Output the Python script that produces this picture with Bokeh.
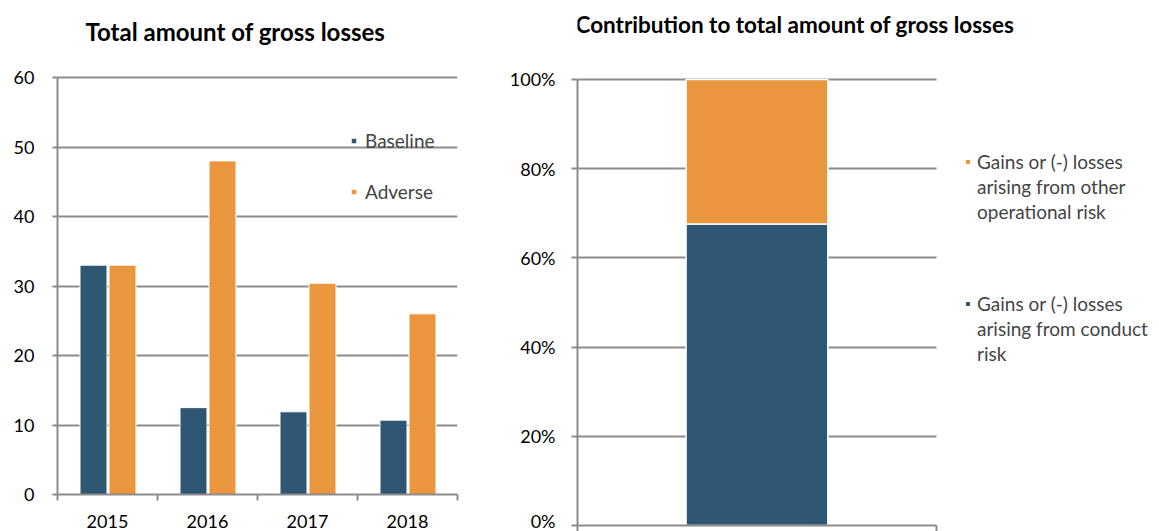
from bokeh.plotting import figure
from bokeh.layouts import row, column
from bokeh.models import (ColumnDataSource, FixedTicker, Legend, LegendItem,
                          NumeralTickFormatter, Range1d, Label)
from bokeh.embed import file_html
from bokeh.resources import INLINE

# ---------------- data ----------------
years = ["2015", "2016", "2017", "2018"]
baseline = [33.0, 12.5, 11.9, 10.7]
adverse = [33.0, 48.0, 30.4, 26.0]

contrib_category = ["Total"]
conduct_share = [0.676]
other_share = [0.324]

left_title = "Total amount of gross losses"
right_title = "Contribution to total amount of gross losses"
legend_left = ["Baseline", "Adverse"]
legend_other = ["Gains or (-) losses", "arising from other", "operational risk"]
legend_conduct = ["Gains or (-) losses", "arising from conduct", "risk"]

BLUE = "#2F5672"
ORANGE = "#EA963E"
GRID = "#8C8C8C"
FONT = "Lato"
H = 531


def style_axis(ax):
    ax.axis_line_color = GRID
    ax.axis_line_width = 2
    ax.major_tick_line_color = GRID
    ax.major_tick_line_width = 2
    ax.minor_tick_line_color = GRID
    ax.minor_tick_line_width = 2
    ax.major_label_text_font = FONT
    ax.major_label_text_font_size = "18px"
    ax.major_label_text_color = "black"


def add_title(p, text, x, y, size):
    p.add_layout(Label(x=x, y=y, text=text, text_font=FONT,
                       text_font_size=size, text_font_style="bold",
                       text_color="black", text_align="left",
                       text_baseline="middle"))


# ---------------- left chart ----------------
idx = list(range(len(years)))
src = ColumnDataSource(dict(
    xb=[i - 0.14 for i in idx], xa=[i + 0.15 for i in idx],
    baseline=baseline, adverse=adverse))

p1 = figure(width=500, height=H, output_backend="svg", toolbar_location=None,
            x_range=Range1d(-0.5, len(years) - 0.5), y_range=Range1d(0, 71.08),
            min_border_left=57, min_border_right=43, min_border_top=0,
            min_border_bottom=37)
p1.outline_line_color = None
r_b = p1.vbar(x="xb", top="baseline", width=0.27, source=src,
              fill_color=BLUE, line_color="white", line_width=1)
r_a = p1.vbar(x="xa", top="adverse", width=0.27, source=src,
              fill_color=ORANGE, line_color="white", line_width=1)
add_title(p1, left_title, -0.22, 66.62, "24px")

p1.xgrid.grid_line_color = None
p1.ygrid.grid_line_color = GRID
p1.ygrid.grid_line_width = 2
p1.yaxis.ticker = FixedTicker(ticks=[0, 10, 20, 30, 40, 50, 60])
p1.yaxis.bounds = (0, 60)
p1.xaxis.ticker = FixedTicker(ticks=idx,
                              minor_ticks=[i - 0.5 for i in idx] + [len(years) - 0.5])
p1.xaxis.major_label_overrides = {i: y for i, y in zip(idx, years)}
style_axis(p1.xaxis)
style_axis(p1.yaxis)
p1.yaxis.major_tick_out = 5
p1.yaxis.major_tick_in = 0
p1.yaxis.minor_tick_line_color = None
p1.yaxis.major_label_standoff = 18
p1.xaxis.major_tick_out = 0
p1.xaxis.major_tick_in = 0
p1.xaxis.minor_tick_out = 6
p1.xaxis.minor_tick_in = 0
p1.xaxis.major_label_standoff = 14

leg1 = Legend(items=[LegendItem(label=legend_left[0], renderers=[r_b]),
                     LegendItem(label=legend_left[1], renderers=[r_a])],
              location=(293, 291))
leg1.background_fill_alpha = 0
leg1.border_line_color = None
leg1.padding = 0
leg1.margin = 0
leg1.spacing = 28
leg1.glyph_width = 7
leg1.glyph_height = 7
leg1.label_height = 20
leg1.label_standoff = 8
leg1.label_text_font = FONT
leg1.label_text_font_size = "19px"
leg1.label_text_baseline = "middle"
p1.add_layout(leg1)

# ---------------- right chart ----------------
ci = list(range(len(contrib_category)))
src2 = ColumnDataSource(dict(x=ci, conduct=conduct_share,
                             other=[c + o for c, o in zip(conduct_share, other_share)]))

p2 = figure(width=659, height=H, output_backend="svg", toolbar_location=None,
            x_range=Range1d(-0.5, 1.1215), y_range=Range1d(0, 1.1771),
            min_border_left=77, min_border_right=0, min_border_top=0,
            min_border_bottom=6)
p2.outline_line_color = None
r_c = p2.vbar(x="x", bottom=0, top="conduct", width=0.395, source=src2,
              fill_color=BLUE, line_color="white", line_width=1.5)
r_o = p2.vbar(x="x", bottom="conduct", top="other", width=0.395, source=src2,
              fill_color=ORANGE, line_color="white", line_width=1.5)
k_n = p2.vbar(x="x", top="top", width=0.1, source=ColumnDataSource(dict(x=[], top=[])),
              fill_alpha=0, line_alpha=0)
add_title(p2, right_title, -0.5056, 1.1233, "22.5px")

p2.xgrid.grid_line_color = None
p2.ygrid.grid_line_color = GRID
p2.ygrid.grid_line_width = 2
p2.ygrid.cross_bounds = (-0.5, len(ci) - 0.5)
p2.yaxis.ticker = FixedTicker(ticks=[0, 0.2, 0.4, 0.6, 0.8, 1.0])
p2.yaxis.formatter = NumeralTickFormatter(format="0%")
p2.yaxis.bounds = (0, 1)
p2.xaxis.ticker = FixedTicker(ticks=[-0.5, len(ci) - 0.5])
p2.xaxis.bounds = (-0.5, len(ci) - 0.5)
p2.xaxis.major_label_overrides = {-0.5: "", len(ci) - 0.5: ""}
style_axis(p2.xaxis)
style_axis(p2.yaxis)
p2.yaxis.minor_tick_line_color = None
p2.xaxis.minor_tick_line_color = None
p2.yaxis.major_tick_out = 6
p2.yaxis.major_tick_in = 0
p2.yaxis.major_label_standoff = 16
p2.xaxis.major_tick_out = 6
p2.xaxis.major_tick_in = 0
p2.xaxis.major_label_standoff = 0
p2.xaxis.major_label_text_font_size = "0px"


def make_legend(lines, rend, loc):
    items = [LegendItem(label=lines[0], renderers=[rend])]
    items += [LegendItem(label=t, renderers=[k_n]) for t in lines[1:]]
    lg = Legend(items=items, location=loc)
    lg.background_fill_alpha = 0
    lg.border_line_color = None
    lg.padding = 0
    lg.margin = 0
    lg.spacing = 0
    lg.glyph_width = 7
    lg.glyph_height = 7
    lg.label_height = 25
    lg.label_standoff = 6
    lg.label_text_font = FONT
    lg.label_text_font_size = "19px"
    lg.label_text_baseline = "middle"
    return lg


p2.add_layout(make_legend(legend_other, r_o, (387, 301)))
p2.add_layout(make_legend(legend_conduct, r_c, (387, 159)))

layout = row(column(p1), column(p2), spacing=0)
open("out.html", "w").write(file_html(layout, INLINE))
